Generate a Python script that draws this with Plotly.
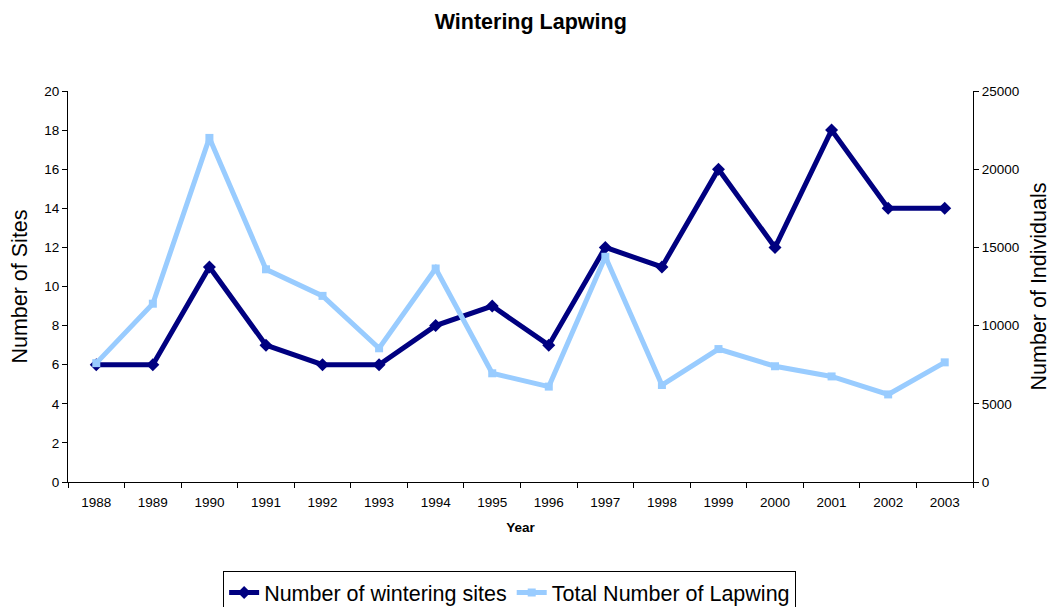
import plotly.graph_objects as go

# Survey years and counts
years = ["1988", "1989", "1990", "1991", "1992", "1993", "1994", "1995",
         "1996", "1997", "1998", "1999", "2000", "2001", "2002", "2003"]
wintering_sites = [6, 6, 11, 7, 6, 6, 8, 9, 7, 12, 11, 16, 12, 18, 14, 14]
total_lapwing = [7600, 11400, 22000, 13600, 11900, 8550, 13650, 6950,
                 6100, 14400, 6200, 8500, 7400, 6750, 5600, 7650]

left_ticks = list(range(0, 21, 2))
right_ticks = list(range(0, 25001, 5000))

NAVY = "#000080"
LIGHT_BLUE = "#99CCFF"
FONT = "Liberation Sans, Arial, sans-serif"

fig = go.Figure()

fig.add_trace(go.Scatter(
    x=years, y=wintering_sites, name="Number of wintering sites",
    mode="lines+markers",
    line=dict(color=NAVY, width=5),
    marker=dict(symbol="diamond", size=10, color=NAVY),
    yaxis="y",
))

fig.add_trace(go.Scatter(
    x=years, y=total_lapwing, name="Total Number of Lapwing",
    mode="lines+markers",
    line=dict(color=LIGHT_BLUE, width=5),
    marker=dict(symbol="square", size=8, color=LIGHT_BLUE),
    yaxis="y2",
))

axis_common = dict(
    showgrid=False, zeroline=False, showline=True, automargin=False,
    linecolor="black", linewidth=1,
    tickcolor="black", tickwidth=1,
    tickfont=dict(family=FONT, size=13.5, color="black"),
)

fig.update_layout(
    width=1051, height=607,
    margin=dict(l=68, r=78, t=91, b=125, autoexpand=False),
    paper_bgcolor="white", plot_bgcolor="white",
    font=dict(family=FONT, color="black"),
    title=dict(text="<b>Wintering Lapwing</b>", x=0.505, xanchor="center",
               y=1 - 21 / 607, yanchor="middle",
               font=dict(family=FONT, size=21.5, color="black")),
    xaxis=dict(
        **axis_common,
        type="category", range=[-0.5, len(years) - 0.5],
        tickmode="array", tickvals=years, ticktext=years,
        ticks="outside", ticklen=5, tickson="boundaries",
        ticklabelstandoff=8,
        title=dict(text="<b>Year</b>", standoff=13,
                   font=dict(family=FONT, size=13.5, color="black")),
    ),
    yaxis=dict(
        **axis_common,
        range=[0, 20], tickmode="array", tickvals=left_ticks,
        ticktext=[str(v) for v in left_ticks],
        ticks="outside", ticklen=5,
        title=dict(text="Number of Sites", standoff=10,
                   font=dict(family=FONT, size=21.5, color="black")),
    ),
    yaxis2=dict(
        **axis_common,
        range=[0, 25000], tickmode="array", tickvals=right_ticks,
        ticktext=[str(v) for v in right_ticks],
        overlaying="y", side="right",
        ticks="outside", ticklen=5,
        title=dict(text="Number of Individuals", standoff=20,
                   font=dict(family=FONT, size=21.5, color="black")),
    ),
    # inner half of the crossing tick marks on the right axis
    yaxis3=dict(
        range=[0, 25000], tickmode="array", tickvals=right_ticks,
        overlaying="y", side="right", showgrid=False, zeroline=False,
        showline=False, showticklabels=False, automargin=False,
        ticks="inside", ticklen=4, tickcolor="black", tickwidth=1,
    ),
    legend=dict(
        orientation="h", x=0.488, xanchor="center",
        yref="container", y=1 - 571 / 607, yanchor="top",
        bordercolor="black", borderwidth=1, bgcolor="white",
        font=dict(family=FONT, size=21.5, color="black"),
        itemwidth=30, tracegroupgap=0,
    ),
    showlegend=True,
)

fig.write_html("out.html")
